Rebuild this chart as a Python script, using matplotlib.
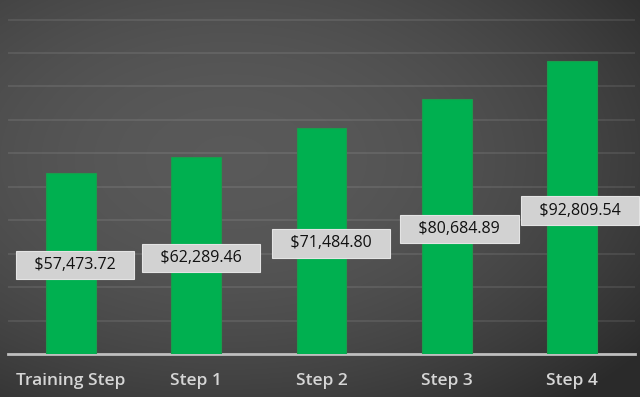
import numpy as np
import matplotlib.pyplot as plt

# ======= Data =======
categories = ["Training Step", "Step 1", "Step 2", "Step 3", "Step 4"]
values = [57473.72, 62289.46, 71484.80, 80684.89, 92809.54]
# ======= Layout / style =======
BAR_COLOR = "#00b050"
AXIS_COLOR = "#bfbfbf"
TICK_COLOR = "#d6d6d6"
LABEL_BOX = "#d2d2d2"
LABEL_DX = [0.036, 0.037, 0.075, 0.10, 0.06]   # data-label x nudges (category units)
LABEL_FRAC = 0.49                              # data-label height as fraction of bar
YMAX = 112200
GRID_STEP = 10600
FONT = ["Open Sans", "DejaVu Sans"]

plt.rcParams["font.family"] = FONT

fig = plt.figure(figsize=(6.4, 3.97), dpi=100)

# radial gradient background
bg = fig.add_axes([0, 0, 1, 1], zorder=0)
yy, xx = np.mgrid[0:1:400j, 0:1:640j]
r2 = (xx - 0.36) ** 2 + (yy - 0.40) ** 2
shade = np.clip(0.35 - 0.28 * r2, 0.165, 0.36)
bg.imshow(np.dstack([shade] * 3), aspect="auto", extent=[0, 1, 0, 1], origin="upper")
bg.set_axis_off()

ax = fig.add_axes([8 / 640, 43 / 397, 627 / 640, 354 / 397], zorder=1)
ax.patch.set_alpha(0)

x = np.arange(len(categories))
ax.bar(x, values, width=0.396, color=BAR_COLOR, edgecolor="#1a9c4c", linewidth=0.8, zorder=3)

for i, v in enumerate(values):
    ax.text(i + LABEL_DX[i], v * LABEL_FRAC, f"   ${v:,.2f}   ",
            ha="center", va="center", fontsize=11.5, color="#111111", zorder=5,
            bbox=dict(boxstyle="square,pad=0.38", fc=LABEL_BOX, ec="#e4e4e4", lw=0.8))

ax.set_xlim(-0.5, len(categories) - 0.5)
ax.set_ylim(0, YMAX)
ax.set_yticks(np.arange(GRID_STEP, YMAX, GRID_STEP))
ax.yaxis.grid(True, color="white", alpha=0.09, linewidth=1.4, zorder=0)
ax.set_axisbelow(True)
ax.tick_params(axis="y", left=False, labelleft=False)
ax.set_xticks(x)
ax.set_xticklabels(categories, fontsize=12.5, color=TICK_COLOR, fontweight="semibold")
ax.tick_params(axis="x", length=0, pad=14)

for s in ["top", "right", "left"]:
    ax.spines[s].set_visible(False)
ax.spines["bottom"].set_color(AXIS_COLOR)
ax.spines["bottom"].set_linewidth(2)

fig.savefig("out.png", dpi=100)
